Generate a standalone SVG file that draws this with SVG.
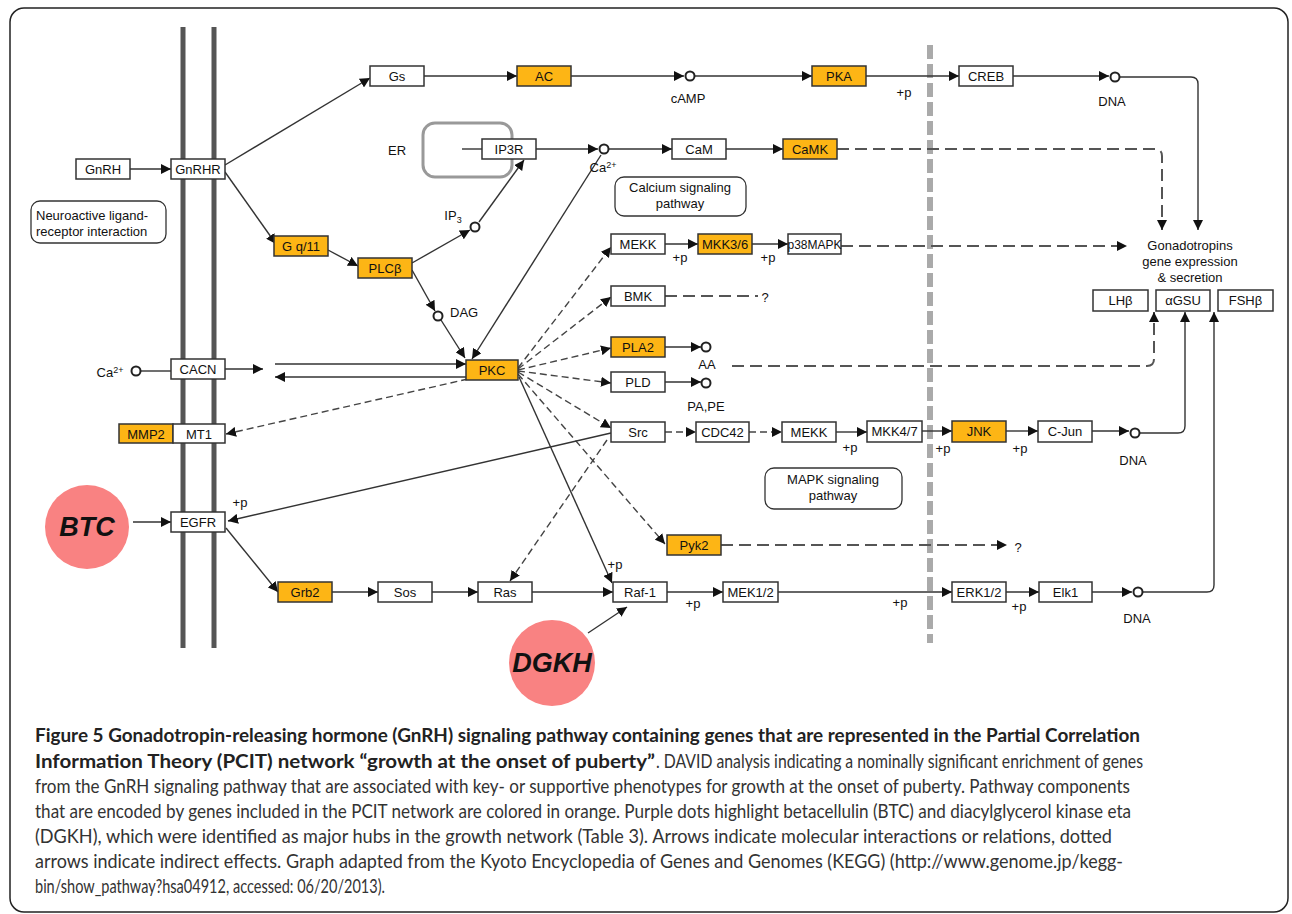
<svg xmlns="http://www.w3.org/2000/svg" width="1292" height="914" viewBox="0 0 1292 914">
<style>
.box{fill:#fff;stroke:#333;stroke-width:1.5}
.org{fill:#FDB515}
.t{font-family:"Liberation Sans",Arial,sans-serif;font-size:13px;fill:#111;text-anchor:middle}
.tl{font-family:"Liberation Sans",Arial,sans-serif;font-size:13px;fill:#111}
.ln{stroke:#333;stroke-width:1.4;fill:none}
.ds{stroke:#444;stroke-width:1.4;fill:none;stroke-dasharray:7 4}
.lds{stroke:#555;stroke-width:2;fill:none;stroke-dasharray:12 6}
.cir{fill:#fff;stroke:#222;stroke-width:2}
.pw{fill:#fff;stroke:#333;stroke-width:1.3}
.hub{fill:#F98282}
.ht{font-family:"Liberation Sans",Arial,sans-serif;font-size:27px;font-weight:bold;font-style:italic;fill:#111;text-anchor:middle}
.cap{font-family:Lato,"Open Sans",sans-serif;font-size:19px;fill:#333}
.capb{font-family:Lato,"Open Sans",sans-serif;font-size:19px;font-weight:bold;fill:#222}
</style>
<defs>
<marker id="a" viewBox="0 0 10 10" refX="10" refY="5" markerWidth="10" markerHeight="10" markerUnits="userSpaceOnUse" orient="auto"><path d="M0,0 L10,5 L0,10 z" fill="#111"/></marker>
</defs>
<rect x="10" y="8" width="1278" height="904" rx="14" fill="#fff" stroke="#222" stroke-width="1.5"/>
<g id="membrane" stroke="#555" stroke-width="5">
<line x1="183" y1="27" x2="183" y2="648"/>
<line x1="214" y1="27" x2="214" y2="648"/>
</g>
<line id="nucleus" x1="930" y1="45" x2="930" y2="643" stroke="#aaa" stroke-width="6" stroke-dasharray="14 5"/>
<rect id="er" x="423" y="123" width="89" height="54" rx="12" fill="none" stroke="#999" stroke-width="3"/>
<text class="tl" x="388" y="155">ER</text>

<g id="connectors">
<path class="ln" d="M130,169 H171" marker-end="url(#a)"/>
<path class="ln" d="M225,165 L370,78" marker-end="url(#a)"/>
<path class="ln" d="M225,172 L276,244" marker-end="url(#a)"/>
<path class="ln" d="M424,76 H517" marker-end="url(#a)"/>
<path class="ln" d="M571,76 H684" marker-end="url(#a)"/>
<path class="ln" d="M695,76 H812" marker-end="url(#a)"/>
<path class="ln" d="M866,76 H959" marker-end="url(#a)"/>
<path class="ln" d="M1013,76 H1109" marker-end="url(#a)"/>
<path class="ln" d="M1120,77 H1191 Q1198,77 1198,84 V230" marker-end="url(#a)"/>
<path class="ln" d="M462,149 H482"/>
<path class="ln" d="M536,149 H598" marker-end="url(#a)"/>
<path class="ln" d="M609,149 H672" marker-end="url(#a)"/>
<path class="ln" d="M726,149 H783" marker-end="url(#a)"/>
<path class="lds" d="M837,149 H1155 Q1162,149 1162,156 V230" marker-end="url(#a)"/>
<path class="ln" d="M328,250 L358,266" marker-end="url(#a)"/>
<path class="ln" d="M412,263 L470,230" marker-end="url(#a)"/>
<path class="ln" d="M479,222 L524,160" marker-end="url(#a)"/>
<path class="ln" d="M412,270 L435,311" marker-end="url(#a)"/>
<path class="ln" d="M441,320 L465,358" marker-end="url(#a)"/>
<path class="ln" d="M601,155 L472,359" marker-end="url(#a)"/>
<path class="ln" d="M141,371 H171"/>
<path class="ln" d="M225,369 H263" marker-end="url(#a)"/>
<path class="ln" d="M275,364 H466" marker-end="url(#a)"/>
<path class="ln" d="M466,377 H275" marker-end="url(#a)"/>
<path class="ds" d="M468,379 L226,434" marker-end="url(#a)"/>
<path class="ds" d="M518,368 L611,247" marker-end="url(#a)"/>
<path class="ds" d="M518,369 L611,297" marker-end="url(#a)"/>
<path class="ds" d="M518,370 L611,348" marker-end="url(#a)"/>
<path class="ds" d="M518,371 L611,383" marker-end="url(#a)"/>
<path class="ds" d="M518,372 L611,428" marker-end="url(#a)"/>
<path class="ds" d="M518,374 L665,544" marker-end="url(#a)"/>
<path class="ln" d="M519,377 L612,583" marker-end="url(#a)"/>
<path class="ln" d="M611,433 L228,521" marker-end="url(#a)"/>
<path class="ds" d="M607,440 L510,581" marker-end="url(#a)"/>
<path class="ds" d="M665,432 H696" marker-end="url(#a)"/>
<path class="ds" d="M749,432 H782" marker-end="url(#a)"/>
<path class="ln" d="M836,432 H867" marker-end="url(#a)"/>
<path class="ln" d="M922,431 H952" marker-end="url(#a)"/>
<path class="ln" d="M1006,431 H1038" marker-end="url(#a)"/>
<path class="ln" d="M1092,431 H1129" marker-end="url(#a)"/>
<path class="ln" d="M1140,433 H1178 Q1185,433 1185,426 V312" marker-end="url(#a)"/>
<path class="ln" d="M665,244 H698" marker-end="url(#a)"/>
<path class="ln" d="M752,244 H788" marker-end="url(#a)"/>
<path class="lds" d="M841,246 H1127" marker-end="url(#a)"/>
<path class="lds" d="M665,296 H758"/>
<path class="ln" d="M665,347 H701" marker-end="url(#a)"/>
<path class="ln" d="M665,382 H701" marker-end="url(#a)"/>
<path class="lds" d="M732,366 H1147 Q1154,366 1154,359 V312" marker-end="url(#a)"/>
<path class="lds" d="M721,545 H1007" marker-end="url(#a)"/>
<path class="ln" d="M133,522 H171" marker-end="url(#a)"/>
<path class="ln" d="M226,528 L278,592" marker-end="url(#a)"/>
<path class="ln" d="M332,592 H378" marker-end="url(#a)"/>
<path class="ln" d="M432,592 H478" marker-end="url(#a)"/>
<path class="ln" d="M532,592 H613" marker-end="url(#a)"/>
<path class="ln" d="M667,592 H723" marker-end="url(#a)"/>
<path class="ln" d="M778,592 H952" marker-end="url(#a)"/>
<path class="ln" d="M1006,592 H1039" marker-end="url(#a)"/>
<path class="ln" d="M1092,592 H1132" marker-end="url(#a)"/>
<path class="ln" d="M1143,592 H1207 Q1214,592 1214,585 V312" marker-end="url(#a)"/>
<path class="ln" d="M588,633 L627,607" marker-end="url(#a)"/>
</g>

<g id="GnRH"><rect class="box" x="76" y="159" width="54" height="20"/><text class="t" x="103" y="174">GnRH</text></g>
<g id="GnRHR"><rect class="box" x="171" y="159" width="54" height="20"/><text class="t" x="198" y="174">GnRHR</text></g>
<g id="Gs"><rect class="box" x="370" y="66" width="54" height="20"/><text class="t" x="397" y="81">Gs</text></g>
<g id="AC"><rect class="box org" x="517" y="66" width="54" height="20"/><text class="t" x="544" y="81">AC</text></g>
<g id="PKA"><rect class="box org" x="812" y="66" width="54" height="20"/><text class="t" x="839" y="81">PKA</text></g>
<g id="CREB"><rect class="box" x="959" y="66" width="54" height="20"/><text class="t" x="986" y="81">CREB</text></g>
<g id="IP3R"><rect class="box" x="482" y="139" width="54" height="20"/><text class="t" x="509" y="154">IP3R</text></g>
<g id="CaM"><rect class="box" x="672" y="139" width="54" height="20"/><text class="t" x="699" y="154">CaM</text></g>
<g id="CaMK"><rect class="box org" x="783" y="139" width="54" height="20"/><text class="t" x="810" y="154">CaMK</text></g>
<g id="Gq11"><rect class="box org" x="274" y="236" width="54" height="20"/><text class="t" x="301" y="251">G q/11</text></g>
<g id="PLCb"><rect class="box org" x="358" y="258" width="54" height="20"/><text class="t" x="385" y="273">PLCβ</text></g>
<g id="MEKK1"><rect class="box" x="611" y="234" width="54" height="20"/><text class="t" x="638" y="249">MEKK</text></g>
<g id="MKK36"><rect class="box org" x="698" y="234" width="54" height="20"/><text class="t" x="725" y="249">MKK3/6</text></g>
<g id="p38MAPK"><rect class="box" x="788" y="234" width="53" height="20"/><text class="t" x="814.5" y="249" textLength="54" lengthAdjust="spacingAndGlyphs">p38MAPK</text></g>
<g id="BMK"><rect class="box" x="611" y="286" width="54" height="20"/><text class="t" x="638" y="301">BMK</text></g>
<g id="PLA2"><rect class="box org" x="611" y="337" width="54" height="20"/><text class="t" x="638" y="352">PLA2</text></g>
<g id="PLD"><rect class="box" x="611" y="372" width="54" height="20"/><text class="t" x="638" y="387">PLD</text></g>
<g id="Src"><rect class="box" x="611" y="422" width="54" height="20"/><text class="t" x="638" y="437">Src</text></g>
<g id="CDC42"><rect class="box" x="696" y="422" width="53" height="20"/><text class="t" x="722.5" y="437">CDC42</text></g>
<g id="MEKK2"><rect class="box" x="782" y="422" width="54" height="20"/><text class="t" x="809" y="437">MEKK</text></g>
<g id="MKK47"><rect class="box" x="867" y="421" width="55" height="21"/><text class="t" x="894.5" y="436">MKK4/7</text></g>
<g id="JNK"><rect class="box org" x="952" y="421" width="54" height="21"/><text class="t" x="979" y="436">JNK</text></g>
<g id="CJun"><rect class="box" x="1038" y="421" width="54" height="21"/><text class="t" x="1065" y="436">C-Jun</text></g>
<g id="PKC"><rect class="box org" x="466" y="360" width="52" height="20"/><text class="t" x="492" y="375">PKC</text></g>
<g id="CACN"><rect class="box" x="171" y="359" width="54" height="20"/><text class="t" x="198" y="374">CACN</text></g>
<g id="MMP2"><rect class="box org" x="119" y="424" width="54" height="19"/><text class="t" x="146" y="439">MMP2</text></g>
<g id="MT1"><rect class="box" x="173" y="424" width="52" height="19"/><text class="t" x="199" y="439">MT1</text></g>
<g id="EGFR"><rect class="box" x="171" y="512" width="54" height="20"/><text class="t" x="198" y="527">EGFR</text></g>
<g id="Grb2"><rect class="box org" x="278" y="582" width="54" height="20"/><text class="t" x="305" y="597">Grb2</text></g>
<g id="Sos"><rect class="box" x="378" y="582" width="54" height="20"/><text class="t" x="405" y="597">Sos</text></g>
<g id="Ras"><rect class="box" x="478" y="582" width="54" height="20"/><text class="t" x="505" y="597">Ras</text></g>
<g id="Raf1"><rect class="box" x="613" y="582" width="54" height="20"/><text class="t" x="640" y="597">Raf-1</text></g>
<g id="MEK12"><rect class="box" x="723" y="582" width="55" height="20"/><text class="t" x="750.5" y="597">MEK1/2</text></g>
<g id="ERK12"><rect class="box" x="952" y="582" width="54" height="20"/><text class="t" x="979" y="597">ERK1/2</text></g>
<g id="Elk1"><rect class="box" x="1039" y="582" width="53" height="20"/><text class="t" x="1065.5" y="597">Elk1</text></g>
<g id="Pyk2"><rect class="box org" x="667" y="535" width="54" height="20"/><text class="t" x="694" y="550">Pyk2</text></g>
<g id="LHb"><rect class="box" x="1093" y="290" width="55" height="21"/><text class="t" x="1120.5" y="305">LHβ</text></g>
<g id="aGSU"><rect class="box" x="1156" y="290" width="54" height="21"/><text class="t" x="1183" y="305">αGSU</text></g>
<g id="FSHb"><rect class="box" x="1218" y="290" width="55" height="21"/><text class="t" x="1245.5" y="305">FSHβ</text></g>

<g id="Neuroactive"><rect class="pw" x="31" y="201" width="135" height="42" rx="9"/><text class="tl" x="36" y="220">Neuroactive ligand-</text><text class="tl" x="36" y="236">receptor interaction</text></g>
<g id="Calcium"><rect class="pw" x="615" y="177" width="131" height="39" rx="9"/><text class="t" x="680" y="192">Calcium signaling</text><text class="t" x="680" y="208">pathway</text></g>
<g id="MAPK"><rect class="pw" x="765" y="468" width="137" height="41" rx="9"/><text class="t" x="833" y="484">MAPK signaling</text><text class="t" x="833" y="500">pathway</text></g>
<g id="Gonadotropins"><text class="t" x="1190" y="250">Gonadotropins</text><text class="t" x="1190" y="266">gene expression</text><text class="t" x="1190" y="282">&amp; secretion</text></g>

<g id="metabolites">
<circle class="cir" cx="690" cy="76" r="4.5"/><text class="t" x="688" y="103">cAMP</text>
<circle class="cir" cx="1115" cy="77" r="4.5"/><text class="t" x="1112" y="106">DNA</text>
<circle class="cir" cx="604" cy="149" r="4.5"/><text class="t" x="603" y="172">Ca<tspan font-size="9" dy="-4">2+</tspan></text>
<circle class="cir" cx="475" cy="227" r="4.5"/><text class="t" x="453" y="220">IP<tspan font-size="9" dy="3">3</tspan></text>
<circle class="cir" cx="438" cy="316" r="4.5"/><text class="tl" x="450" y="317">DAG</text>
<circle class="cir" cx="706" cy="347" r="4.5"/><text class="t" x="707" y="369">AA</text>
<circle class="cir" cx="706" cy="383" r="4.5"/><text class="t" x="706" y="411">PA,PE</text>
<circle class="cir" cx="1135" cy="433" r="4.5"/><text class="t" x="1133" y="465">DNA</text>
<circle class="cir" cx="1138" cy="592" r="4.5"/><text class="t" x="1137" y="623">DNA</text>
<circle class="cir" cx="136" cy="371" r="4.5"/><text class="t" x="110" y="377">Ca<tspan font-size="9" dy="-4">2+</tspan></text>
</g>

<g id="labels">
<text class="t" x="765" y="302">?</text>
<text class="t" x="1018" y="552">?</text>
<text class="t" x="904" y="97">+p</text>
<text class="t" x="680" y="262">+p</text>
<text class="t" x="768" y="262">+p</text>
<text class="t" x="850" y="452">+p</text>
<text class="t" x="943" y="453">+p</text>
<text class="t" x="1020" y="453">+p</text>
<text class="t" x="240" y="507">+p</text>
<text class="t" x="615" y="569">+p</text>
<text class="t" x="693" y="608">+p</text>
<text class="t" x="900" y="607">+p</text>
<text class="t" x="1019" y="611">+p</text>
</g>

<g id="BTC"><circle class="hub" cx="87" cy="527" r="42"/><text class="ht" x="87" y="536">BTC</text></g>
<g id="DGKH"><circle class="hub" cx="552" cy="663" r="43"/><text class="ht" x="552" y="672">DGKH</text></g>

<g id="caption">
<text class="capb" x="35" y="742" textLength="1105" lengthAdjust="spacingAndGlyphs">Figure 5 Gonadotropin-releasing hormone (GnRH) signaling pathway containing genes that are represented in the Partial Correlation</text>
<text class="capb" x="35" y="767.5" textLength="620" lengthAdjust="spacingAndGlyphs">Information Theory (PCIT) network “growth at the onset of puberty”</text>
<text class="cap" x="656" y="767.5" textLength="487" lengthAdjust="spacingAndGlyphs">. DAVID analysis indicating a nominally significant enrichment of genes</text>
<text class="cap" x="35" y="792.5" textLength="1095" lengthAdjust="spacingAndGlyphs">from the GnRH signaling pathway that are associated with key- or supportive phenotypes for growth at the onset of puberty. Pathway components</text>
<text class="cap" x="35" y="817.5" textLength="1096" lengthAdjust="spacingAndGlyphs">that are encoded by genes included in the PCIT network are colored in orange. Purple dots highlight betacellulin (BTC) and diacylglycerol kinase eta</text>
<text class="cap" x="35" y="843" textLength="1077" lengthAdjust="spacingAndGlyphs">(DGKH), which were identified as major hubs in the growth network (Table 3). Arrows indicate molecular interactions or relations, dotted</text>
<text class="cap" x="35" y="868" textLength="1088" lengthAdjust="spacingAndGlyphs">arrows indicate indirect effects. Graph adapted from the Kyoto Encyclopedia of Genes and Genomes (KEGG) (http://www.genome.jp/kegg-</text>
<text class="cap" x="35" y="893" textLength="350" lengthAdjust="spacingAndGlyphs">bin/show_pathway?hsa04912, accessed: 06/20/2013).</text>
</g>
</svg>
